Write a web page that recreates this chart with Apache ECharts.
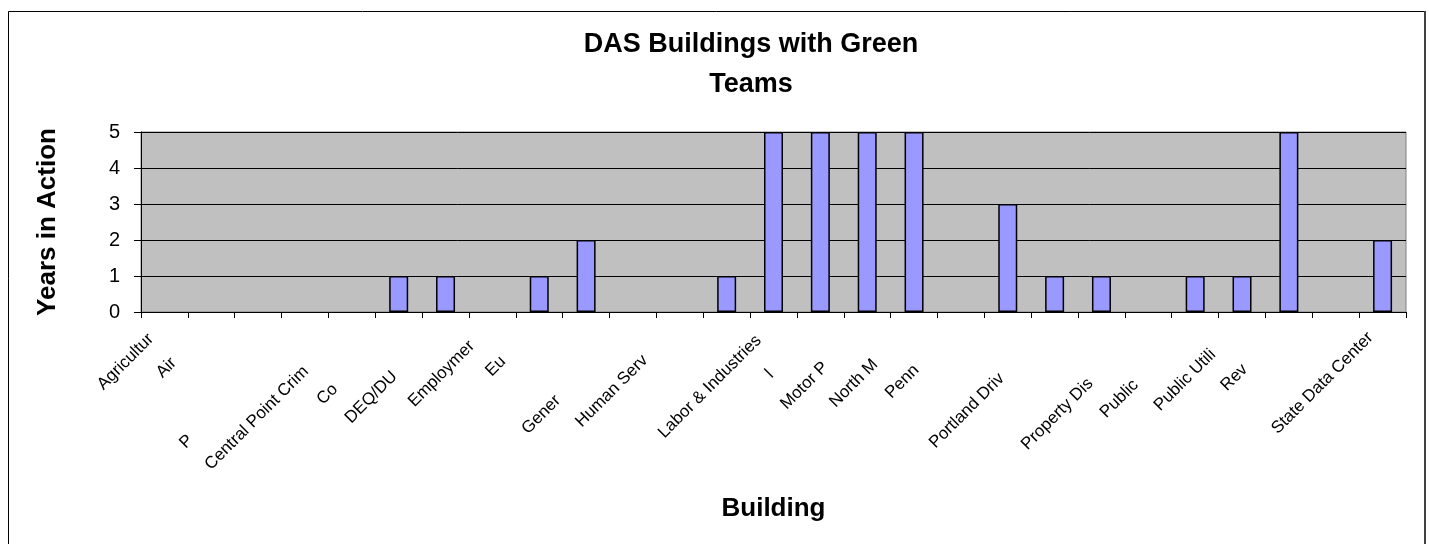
<!DOCTYPE html>
<html>
<head>
<meta charset="utf-8">
<script src="https://cdn.jsdelivr.net/npm/echarts@6/dist/echarts.min.js"></script>
<style>
  html, body { margin: 0; padding: 0; background: #ffffff; }
  #chart { width: 1429px; height: 544px; }
</style>
</head>
<body>
<div id="chart"></div>
<script>
// Building names as they appear under the axis
const buildings = [
  'Agricultur', 'Air', '', 'P', 'Central Point Crim', 'Co', 'DEQ/DU',
  'Employmer', 'Eu', '', 'Gener', 'Human Serv', '', 'Labor & Industries',
  'l', 'Motor P', 'North M', 'Penn', '', 'Portland Driv', '',
  'Property Dis', 'Public', 'Public Utili', 'Rev', '', 'State Data Center'
];

// Years each building's green team has been active
const yearsInAction = [
  0, 0, 0, 0, 0, 1, 1, 0, 1, 2, 0, 0, 1, 5,
  5, 5, 5, 0, 3, 1, 1, 0, 1, 1, 5, 0, 2
];

const yTicks = [0, 1, 2, 3, 4, 5];

const FONT = '"Liberation Sans", Arial, sans-serif';

// how far each rotated label sits down its own diagonal
const labelDrop = [
  8, 42, 0, 151, 54, 79, 61, 18, 40, 0, 95, 38, 0, 10,
  59, 48, 44, 52, 0, 64, 0, 71, 73, 30, 51, 0, 6
];
const labelRich = {};
labelDrop.forEach((d, i) => {
  labelRich['p' + i] = {
    fontSize: 17, fontFamily: FONT, color: '#000', padding: [0, d + 11, 0, 0]
  };
});

const chart = echarts.init(document.getElementById('chart'), null, { renderer: 'canvas' });

chart.setOption({
  backgroundColor: '#ffffff',
  animation: false,
  title: {
    text: 'DAS Buildings with Green\nTeams',
    left: 746,
    top: 20,
    textAlign: 'center',
    textStyle: {
      fontFamily: FONT, fontSize: 27, fontWeight: 'bold', color: '#000', lineHeight: 40
    }
  },
  grid: {
    left: 141, top: 132, width: 1265, height: 180,
    show: true, backgroundColor: '#C0C0C0', borderColor: '#808080', borderWidth: 1
  },
  xAxis: {
    type: 'category',
    data: buildings,
    name: 'Building',
    nameLocation: 'middle',
    nameGap: 184,
    nameTextStyle: { fontFamily: FONT, fontSize: 26, fontWeight: 'bold', color: '#000' },
    axisLine: { show: true, lineStyle: { color: '#000', width: 1 } },
    axisTick: { show: true, length: 6, lineStyle: { color: '#000' } },
    axisLabel: {
      interval: 0,
      rotate: 45,
      margin: 11,
      fontFamily: FONT, fontSize: 17, color: '#000',
      formatter: (value, idx) => value ? '{p' + idx + '|' + value + '}' : '',
      rich: labelRich
    },
    splitLine: { show: false }
  },
  yAxis: {
    type: 'value',
    min: yTicks[0],
    max: yTicks[yTicks.length - 1],
    interval: 1,
    name: 'Years in Action',
    nameLocation: 'middle',
    nameGap: 80,
    nameRotate: 90,
    nameTextStyle: { fontFamily: FONT, fontSize: 26, fontWeight: 'bold', color: '#000' },
    axisLine: { show: true, lineStyle: { color: '#000', width: 1 } },
    axisTick: { show: true, length: 7, lineStyle: { color: '#000' } },
    axisLabel: { fontFamily: FONT, fontSize: 20, color: '#000', margin: 21 },
    splitLine: { show: true, lineStyle: { color: '#000', width: 1 } }
  },
  series: [{
    type: 'bar',
    // empty buildings get no bar at all, not a flat outline
    data: yearsInAction.map(v => (v === 0 ? null : v)),
    barWidth: 19,
    itemStyle: { color: '#9999FF', borderColor: '#000', borderWidth: 1.5 }
  }],
  graphic: [
    {
      type: 'polyline',
      shape: { points: [[8.5, 560], [8.5, 11.5], [1425, 11.5]] },
      style: { stroke: '#000', lineWidth: 1, fill: null },
      silent: true
    },
    {
      type: 'line',
      shape: { x1: 1425, y1: 11, x2: 1425, y2: 560 },
      style: { stroke: '#404040', lineWidth: 2 },
      silent: true
    }
  ]
});
</script>
</body>
</html>
